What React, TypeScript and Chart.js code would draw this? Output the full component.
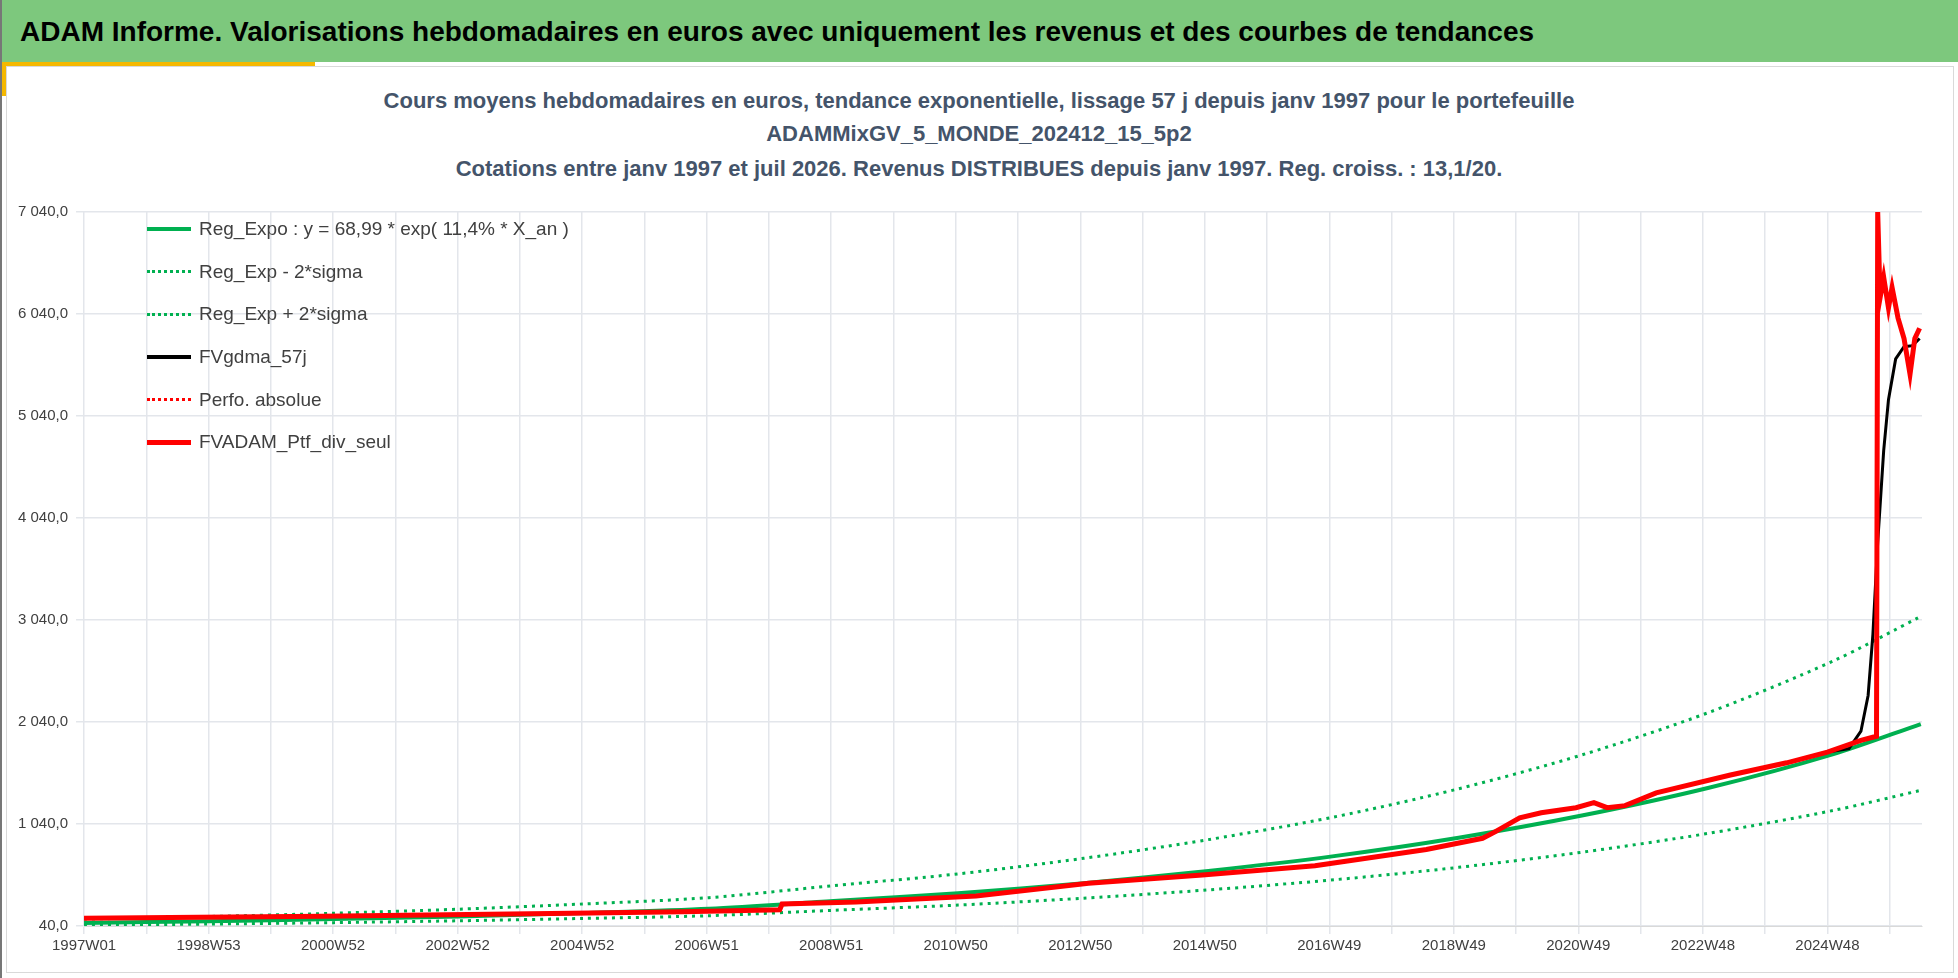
import React, { useEffect, useRef } from "react";
import { Chart, registerables } from "chart.js";

Chart.register(...registerables);

// x positions in weeks since 1997W01
const trendWeeks = [0, 104, 209, 313, 417, 522, 626, 730, 835, 939, 1044, 1148, 1252, 1357, 1461, 1534];
const trendValues = [70, 87, 108, 134, 167, 208, 285, 360, 460, 580, 725, 905, 1125, 1395, 1725, 2020];
const lowerValues = [48, 59, 73, 91, 114, 141, 194, 245, 313, 394, 493, 615, 765, 949, 1173, 1370];
const upperValues = [107, 133, 165, 205, 256, 318, 436, 551, 704, 887, 1109, 1385, 1721, 2134, 2639, 3075];

const ptfWeeks = [0, 96, 200, 303, 407, 500, 562, 581, 583, 645, 745, 839, 934, 1028, 1121, 1168, 1178, 1199, 1217, 1246, 1261, 1272, 1287, 1313, 1375, 1422, 1456, 1484, 1497, 1498, 1500, 1503, 1507, 1510, 1515, 1520, 1525, 1529, 1533];
const ptfValues = [115, 125, 135, 150, 165, 180, 195, 200, 255, 275, 335, 460, 540, 630, 790, 900, 960, 1100, 1150, 1200, 1250, 1200, 1220, 1345, 1520, 1640, 1745, 1860, 1900, 7040, 6200, 6400, 6100, 6300, 6000, 5800, 5450, 5800, 5900];

const gdmaWeeks = [0, 96, 200, 303, 407, 500, 562, 581, 583, 645, 745, 839, 934, 1028, 1121, 1168, 1178, 1199, 1217, 1246, 1261, 1272, 1287, 1313, 1375, 1422, 1456, 1474, 1484, 1490, 1494, 1498, 1503, 1507, 1513, 1520, 1527, 1533];
const gdmaValues = [115, 125, 135, 150, 165, 180, 195, 200, 255, 275, 335, 460, 540, 630, 790, 900, 960, 1100, 1150, 1200, 1250, 1200, 1220, 1345, 1520, 1640, 1745, 1780, 1950, 2300, 2900, 3800, 4700, 5200, 5600, 5720, 5730, 5800];

const xTickLabels = ["1997W01", "1998W53", "2000W52", "2002W52", "2004W52", "2006W51", "2008W51", "2010W50", "2012W50", "2014W50", "2016W49", "2018W49", "2020W49", "2022W48", "2024W48"];

const legendItems = [
  { label: "Reg_Expo : y = 68,99 * exp( 11,4% *  X_an )", color: "#00B050", dash: false, width: 4 },
  { label: "Reg_Exp - 2*sigma", color: "#00B050", dash: true, width: 3 },
  { label: "Reg_Exp + 2*sigma", color: "#00B050", dash: true, width: 3 },
  { label: "FVgdma_57j", color: "#000000", dash: false, width: 4 },
  { label: "Perfo. absolue", color: "#FF0000", dash: true, width: 3 },
  { label: "FVADAM_Ptf_div_seul", color: "#FF0000", dash: false, width: 5 },
];

const pts = (xs: number[], ys: number[]) => xs.map((x, i) => ({ x, y: ys[i] }));

const fmt = (v: number) => {
  const s = Math.round(v).toString().replace(/\B(?=(\d{3})+(?!\d))/g, " ");
  return s + ",0";
};

const App: React.FC = () => {
  const ref = useRef<HTMLCanvasElement>(null);
  const chartRef = useRef<Chart | null>(null);

  useEffect(() => {
    document.body.style.margin = "0";
    const ctx = ref.current?.getContext("2d");
    if (!ctx) return;
    chartRef.current?.destroy();
    const base = { pointRadius: 0, fill: false, tension: 0 };
    // lower "order" is drawn on top
    chartRef.current = new Chart(ctx, {
      type: "line",
      data: {
        datasets: [
          { ...base, order: 6, label: "Reg_Expo", data: pts(trendWeeks, trendValues), borderColor: "#00B050", borderWidth: 4, tension: 0.3 },
          { ...base, order: 5, label: "Reg_Exp - 2*sigma", data: pts(trendWeeks, lowerValues), borderColor: "#00B050", borderWidth: 3, borderDash: [3, 5], tension: 0.3 },
          { ...base, order: 4, label: "Reg_Exp + 2*sigma", data: pts(trendWeeks, upperValues), borderColor: "#00B050", borderWidth: 3, borderDash: [3, 5], tension: 0.3 },
          { ...base, order: 3, label: "FVgdma_57j", data: pts(gdmaWeeks, gdmaValues), borderColor: "#000000", borderWidth: 3 },
          { ...base, order: 2, label: "Perfo. absolue", data: pts(ptfWeeks, ptfValues), borderColor: "#FF0000", borderWidth: 3, borderDash: [3, 5] },
          { ...base, order: 1, label: "FVADAM_Ptf_div_seul", data: pts(ptfWeeks, ptfValues), borderColor: "#FF0000", borderWidth: 5 },
        ],
      },
      options: {
        animation: false,
        responsive: false,
        maintainAspectRatio: false,
        layout: { padding: { top: 137, left: 0, right: 18, bottom: 20 } },
        plugins: { legend: { display: false }, tooltip: { enabled: false } },
        scales: {
          x: {
            type: "linear",
            min: 0,
            max: 1535,
            grid: { color: "#E3E6EB", lineWidth: 1.5 },
            border: { color: "#D9D9D9" },
            afterBuildTicks: (axis: any) => {
              const t = [];
              for (let w = 0; w <= 1535; w += 52) t.push({ value: w });
              axis.ticks = t;
            },
            ticks: {
              autoSkip: false,
              maxRotation: 0,
              color: "#404040",
              font: { family: "Liberation Sans", size: 15 },
              callback: (v: any) => {
                const i = Math.round(Number(v) / 52);
                return i % 2 === 0 ? xTickLabels[i / 2] ?? "" : "";
              },
            },
          },
          y: {
            min: 40,
            max: 7040,
            grid: { color: "#E3E6EB", lineWidth: 1.5 },
            border: { display: false },
            afterBuildTicks: (axis: any) => {
              const t = [];
              for (let v = 40; v <= 7040; v += 1000) t.push({ value: v });
              axis.ticks = t;
            },
            ticks: {
              color: "#404040",
              padding: 8,
              font: { family: "Liberation Sans", size: 15 },
              callback: (v: any) => fmt(Number(v)),
            },
          },
        },
      },
    });
    return () => {
      chartRef.current?.destroy();
      chartRef.current = null;
    };
  }, []);

  const titleStyle: React.CSSProperties = {
    position: "absolute",
    left: 0,
    width: 1958,
    textAlign: "center",
    fontFamily: "Liberation Sans, sans-serif",
    fontWeight: "bold",
    fontSize: 22,
    color: "#44546A",
  };

  return (
    <div style={{ position: "relative", width: 1958, height: 978, background: "#fff", overflow: "hidden" }}>
      <div style={{ position: "absolute", left: 0, top: 0, width: 1958, height: 62, background: "#7DC87D", borderLeft: "2px solid #777" }}>
        <div style={{ position: "absolute", left: 18, top: 16, fontFamily: "Liberation Sans, sans-serif", fontWeight: "bold", fontSize: 28, color: "#000" }}>
          ADAM Informe. Valorisations hebdomadaires en euros avec uniquement les revenus et des courbes de tendances
        </div>
      </div>
      <div style={{ position: "absolute", left: 0, top: 62, width: 315, height: 4, background: "#F5B800" }} />
      <div style={{ position: "absolute", left: 0, top: 62, width: 6, height: 34, background: "#F5B800" }} />
      <div style={{ position: "absolute", left: 0, top: 62, width: 2, height: 916, background: "#777" }} />
      <div style={{ position: "absolute", left: 6, top: 66, width: 1946, height: 905, border: "1px solid #D9D9D9" }} />
      <div style={{ ...titleStyle, top: 88 }}>Cours moyens hebdomadaires  en euros, tendance exponentielle, lissage 57 j depuis janv 1997 pour le portefeuille</div>
      <div style={{ ...titleStyle, top: 121 }}>ADAMMixGV_5_MONDE_202412_15_5p2</div>
      <div style={{ ...titleStyle, top: 156 }}>Cotations  entre janv 1997 et juil 2026. Revenus DISTRIBUES depuis janv 1997. Reg. croiss. : 13,1/20.</div>
      <canvas ref={ref} width={1930} height={903} style={{ position: "absolute", left: 10, top: 75 }} />
      <div style={{ position: "absolute", left: 147, top: 208 }}>
        {legendItems.map((it, i) => (
          <div key={i} style={{ display: "flex", alignItems: "center", height: 42.6 }}>
            <div style={{ width: 44, height: 0, borderTop: `${it.width}px ${it.dash ? "dotted" : "solid"} ${it.color}`, marginRight: 8 }} />
            <span style={{ fontFamily: "Liberation Sans, sans-serif", fontSize: 19, color: "#404040" }}>{it.label}</span>
          </div>
        ))}
      </div>
    </div>
  );
};

export default App;
